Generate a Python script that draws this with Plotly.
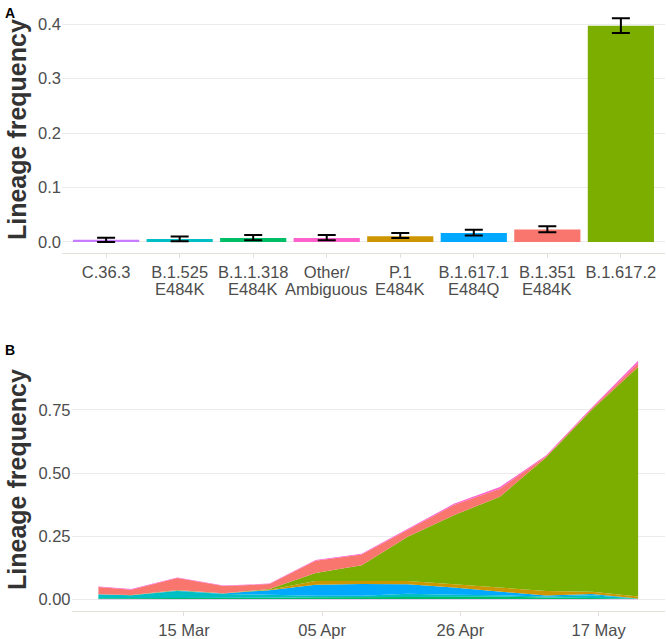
import plotly.graph_objects as go

# ---------- Panel A data ----------
lineages = ["C.36.3", "B.1.525 E484K", "B.1.1.318 E484K", "Other/Ambiguous",
            "P.1 E484K", "B.1.617.1 E484Q", "B.1.351 E484K", "B.1.617.2"]
label_line1 = ["C.36.3", "B.1.525", "B.1.1.318", "Other/", "P.1", "B.1.617.1", "B.1.351", "B.1.617.2"]
label_line2 = ["", "E484K", "E484K", "Ambiguous", "E484K", "E484Q", "E484K", ""]
freq = [0.004, 0.0055, 0.0075, 0.0075, 0.0105, 0.0165, 0.0228, 0.397]
err_hi = [0.004, 0.0045, 0.0055, 0.0055, 0.006, 0.006, 0.006, 0.014]
err_lo = [0.004, 0.0042, 0.0045, 0.0045, 0.003, 0.0045, 0.0048, 0.013]
bar_colors = ["#C77CFF", "#00BFC4", "#00BE67", "#FF61CC",
              "#CD9600", "#00A9FF", "#F8766D", "#7CAE00"]

# ---------- Panel B data ----------
dates = ["2021-03-02", "2021-03-07", "2021-03-14", "2021-03-21", "2021-03-28",
         "2021-04-04", "2021-04-11", "2021-04-18", "2021-04-25", "2021-05-02",
         "2021-05-09", "2021-05-16", "2021-05-23"]
c363   = [0.001, 0.001, 0.001, 0.001, 0.002, 0.002, 0.002, 0.002, 0.002, 0.002, 0.001, 0.001, 0.001]
b11318 = [0.003, 0.003, 0.004, 0.003, 0.004, 0.006, 0.006, 0.008, 0.008, 0.008, 0.006, 0.005, 0.002]
b1525  = [0.015, 0.012, 0.028, 0.017, 0.012, 0.006, 0.006, 0.012, 0.008, 0.006, 0.004, 0.010, 0.000]
b16171 = [0.001, 0.000, 0.002, 0.002, 0.018, 0.043, 0.046, 0.037, 0.028, 0.014, 0.004, 0.005, 0.000]
p1     = [0.000, 0.001, 0.002, 0.001, 0.002, 0.015, 0.012, 0.013, 0.013, 0.016, 0.018, 0.009, 0.008]
b16172 = [0.000, 0.000, 0.000, 0.000, 0.002, 0.032, 0.063, 0.176, 0.274, 0.360, 0.529, 0.722, 0.909]
b1351  = [0.028, 0.021, 0.047, 0.028, 0.020, 0.048, 0.042, 0.028, 0.040, 0.032, 0.004, 0.005, 0.015]
other  = [0.002, 0.002, 0.002, 0.002, 0.002, 0.003, 0.003, 0.004, 0.005, 0.007, 0.004, 0.004, 0.010]

stack_series = [("C.36.3", c363, "#C77CFF"), ("B.1.1.318 E484K", b11318, "#00BE67"),
                ("B.1.525 E484K", b1525, "#00BFC4"), ("B.1.617.1 E484Q", b16171, "#00A9FF"),
                ("P.1 E484K", p1, "#CD9600"), ("B.1.617.2", b16172, "#7CAE00"),
                ("B.1.351 E484K", b1351, "#F8766D"), ("Other/Ambiguous", other, "#FF61CC")]

b_tickvals = ["2021-03-15", "2021-04-05", "2021-04-26", "2021-05-17"]
b_ticktext = ["15 Mar", "05 Apr", "26 Apr", "17 May"]

FONT = "Liberation Sans, Arial, sans-serif"
GRID = "#EBEBEB"
AXL = "#E3E0DA"
TXT = "#4D4D4D"
FS = 16.5

fig = go.Figure()
fig.add_trace(go.Bar(
    x=lineages, y=freq, marker=dict(color=bar_colors, line=dict(width=0)), width=0.9,
    error_y=dict(type="data", array=err_hi, arrayminus=err_lo, color="black",
                 thickness=2, width=9),
    xaxis="x", yaxis="y", showlegend=False))

for name, vals, col in stack_series:
    fig.add_trace(go.Scatter(
        x=dates, y=vals, name=name, stackgroup="one", mode="lines",
        line=dict(width=0, color=col), fillcolor=col,
        xaxis="x2", yaxis="y2", showlegend=False))

H = 639
W = 666

annotations = [
    dict(text="<b>A</b>", x=3 / W, y=1 - 3 / H, xref="paper", yref="paper",
         xanchor="left", yanchor="top", showarrow=False,
         font=dict(size=14, color="black", family=FONT)),
    dict(text="<b>B</b>", x=3 / W, y=1 - 341 / H, xref="paper", yref="paper",
         xanchor="left", yanchor="top", showarrow=False,
         font=dict(size=14, color="black", family=FONT)),
    dict(text="<b>Lineage frequency</b>", x=17 / W, y=1 - 130.5 / H,
         xref="paper", yref="paper", textangle=-90, showarrow=False,
         xanchor="center", yanchor="middle",
         font=dict(size=25, color="#333333", family=FONT)),
    dict(text="<b>Lineage frequency</b>", x=17 / W, y=1 - 481.5 / H,
         xref="paper", yref="paper", textangle=-90, showarrow=False,
         xanchor="center", yanchor="middle",
         font=dict(size=25, color="#333333", family=FONT)),
]
for cat, l2 in zip(lineages, label_line2):
    if l2:
        annotations.append(dict(text=l2, x=cat, xref="x", y=1 - 289.5 / H, yref="paper",
                                xanchor="center", yanchor="middle", showarrow=False,
                                font=dict(size=FS, color=TXT, family=FONT)))

fig.update_layout(
    width=W, height=H, margin=dict(l=0, r=0, t=0, b=0),
    paper_bgcolor="white", plot_bgcolor="white",
    font=dict(family=FONT, color=TXT, size=FS),
    xaxis=dict(domain=[62 / W, 665 / W], anchor="y", range=[-0.6, 7.6],
               tickvals=lineages, ticktext=label_line1,
               showgrid=False, showline=True, linecolor=AXL, linewidth=1,
               ticks="outside", ticklen=4, tickcolor=AXL, tickangle=0,
               tickfont=dict(size=FS, color=TXT)),
    yaxis=dict(domain=[1 - 254 / H, 1 - 7 / H], anchor="x", range=[-0.0206, 0.4316],
               tickvals=[0, 0.1, 0.2, 0.3, 0.4], tickformat=".1f",
               showgrid=True, gridcolor=GRID, gridwidth=1, zeroline=False,
               showline=False, ticks="", tickfont=dict(size=FS, color=TXT)),
    xaxis2=dict(domain=[71.5 / W, 665 / W], anchor="y2", type="date",
                range=["2021-02-25 22:00", "2021-05-27 02:00"],
                tickvals=b_tickvals, ticktext=b_ticktext, tickangle=0,
                showgrid=False, showline=True, linecolor=AXL, linewidth=1,
                ticks="outside", ticklen=4, tickcolor=AXL,
                tickfont=dict(size=FS, color=TXT)),
    yaxis2=dict(domain=[1 - 613 / H, 1 - 350 / H], anchor="x2", range=[-0.047, 0.992],
                tickvals=[0, 0.25, 0.5, 0.75], tickformat=".2f",
                showgrid=True, gridcolor=GRID, gridwidth=1, zeroline=False,
                showline=False, ticks="", tickfont=dict(size=FS, color=TXT)),
    annotations=annotations,
)

fig.write_html("out.html", config={"displayModeBar": False},
               post_script="document.body.style.margin='0px';")
